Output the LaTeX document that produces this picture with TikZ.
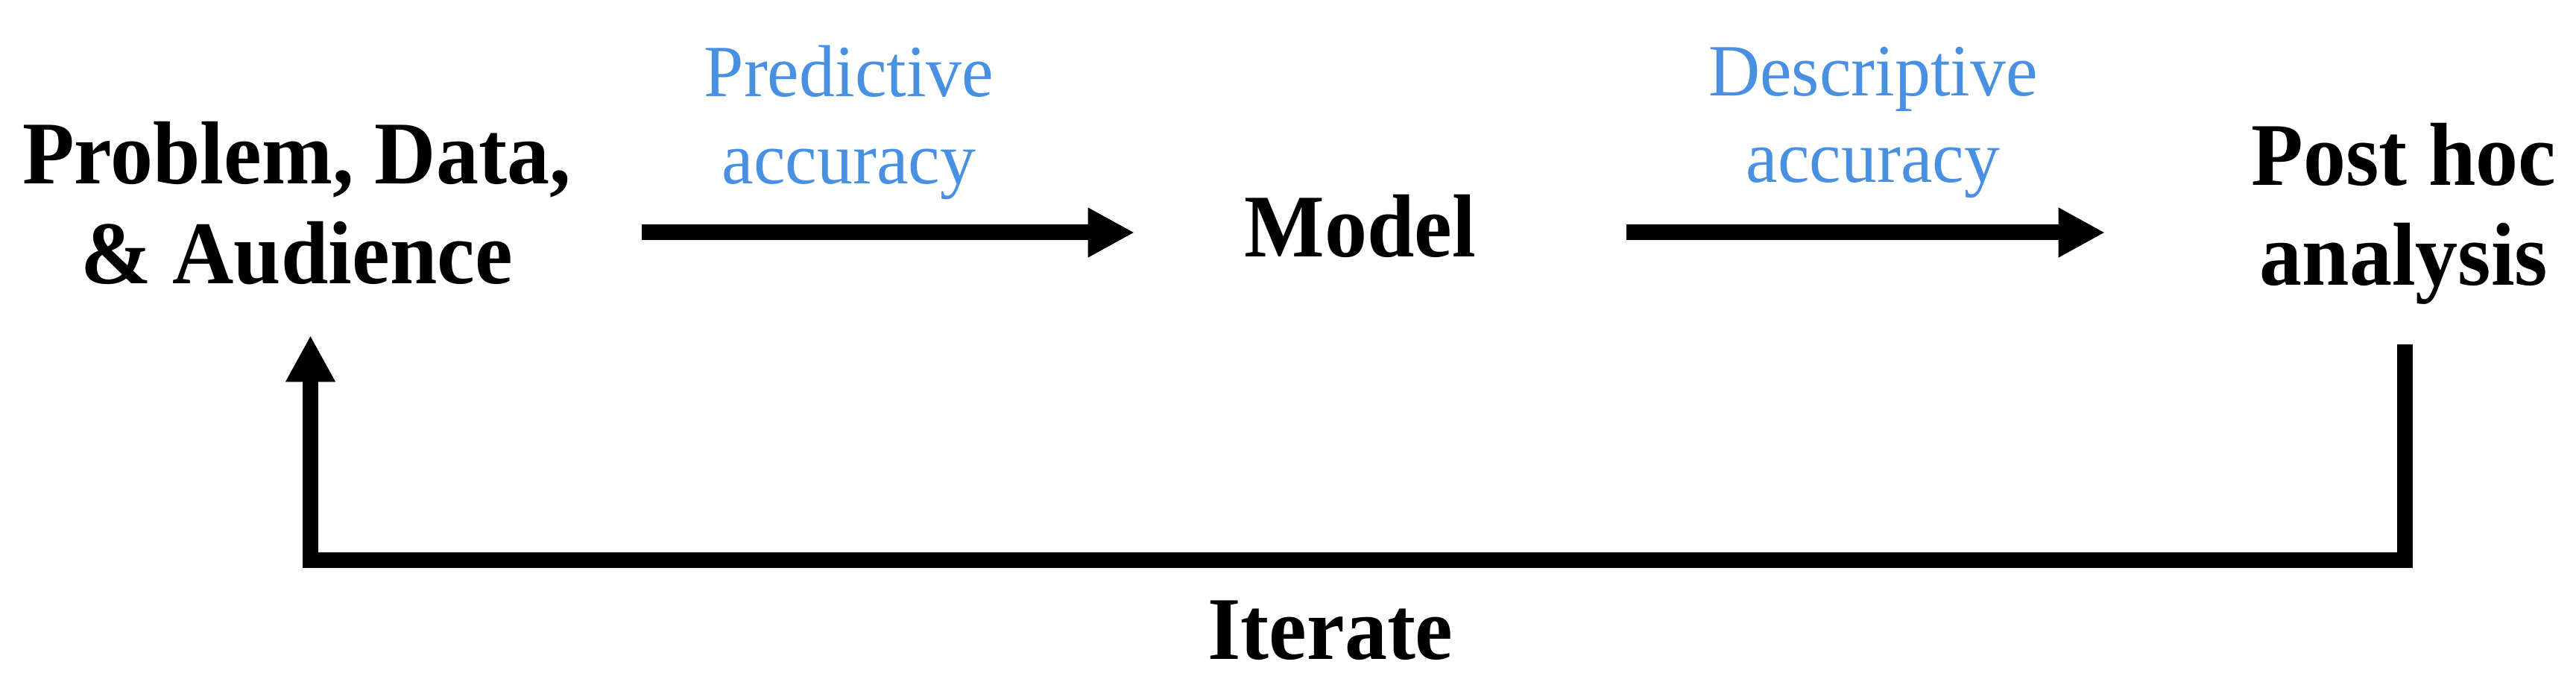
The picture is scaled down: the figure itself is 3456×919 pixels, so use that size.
\documentclass[tikz,border=0pt]{standalone}
\usepackage{fontspec}
\setmainfont{Liberation Serif}
\newfontfamily\headfont{Liberation Serif}[FakeStretch=0.95]
\newfontfamily\labfont{Liberation Serif}[FakeStretch=0.97]
\usetikzlibrary{arrows.meta}
\definecolor{lblue}{RGB}{74,144,226}
\begin{document}
\begin{tikzpicture}[x=0.25pt, y=-0.25pt,
  mainlabel/.style={font=\headfont\bfseries\fontsize{30}{33.5}\selectfont, inner sep=0pt, align=center},
  bluelabel/.style={font=\labfont\fontsize{24.7}{29.2}\selectfont, text=lblue, inner sep=0pt, align=center},
  arr/.style={line width=5.25pt, line join=miter, -{Triangle[length=15.6pt,width=15.6pt]}}]
\useasboundingbox (0,0) rectangle (3456,919);
% anchor=base is the baseline of the last line
\node[mainlabel, anchor=base] (prob) at (398,381) {Problem, Data,\\\& Audience};
\node[mainlabel, anchor=base] (model) at (1824.5,345) {Model};
\node[mainlabel, anchor=base] (post) at (3225,383) {Post hoc\\analysis};
\node[mainlabel, anchor=base] (iter) at (1785,884) {Iterate};
\node[bluelabel, anchor=base] (pred) at (1139,246.5) {Predictive\\accuracy};
\node[bluelabel, anchor=base] (desc) at (2513,245) {Descriptive\\accuracy};
\coordinate (a1s) at (861,312);
\coordinate (a1e) at (1522,312);
\coordinate (a2s) at (2182,312);
\coordinate (a2e) at (2824,312);
\coordinate (fbs) at (3226,462);
\coordinate (fbr) at (3226,751);
\coordinate (fbl) at (416.5,751);
\coordinate (fbe) at (416.5,450);
\draw[arr] (a1s) -- (a1e);
\draw[arr] (a2s) -- (a2e);
\draw[arr] (fbs) -- (fbr) -- (fbl) -- (fbe);
\end{tikzpicture}
\end{document}
